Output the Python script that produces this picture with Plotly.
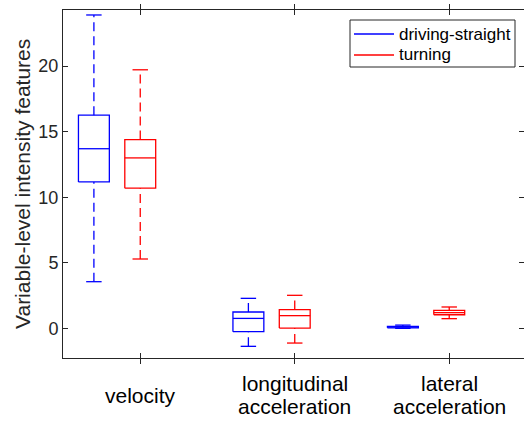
import plotly.graph_objects as go

# Feature groups along the x axis (one tick per group)
categories = ["velocity", "longitudinal\nacceleration", "lateral\nacceleration"]

# Box statistics per group: lower whisker, Q1, median, Q3, upper whisker
straight_lower = [3.56, -1.37, 0.00]
straight_q1 = [11.17, -0.25, 0.04]
straight_median = [13.70, 0.76, 0.10]
straight_q3 = [16.26, 1.25, 0.15]
straight_upper = [23.90, 2.29, 0.25]

turning_lower = [5.29, -1.12, 0.74]
turning_q1 = [10.69, 0.02, 1.04]
turning_median = [13.00, 0.97, 1.20]
turning_q3 = [14.40, 1.43, 1.37]
turning_upper = [19.72, 2.52, 1.63]

y_ticks = [0, 5, 10, 15, 20]

FONT = "Liberation Sans, Arial, sans-serif"
AXIS_COLOR = "#262626"
BOX_W = 0.2      # box width in axis units
CAP_W = 0.1      # whisker cap width
LW = 1.3

W, H = 524, 421
M_L, M_R, M_T, M_B = 63, 0, 10, 63
PLOT_W = W - M_L - M_R
PLOT_H = H - M_T - M_B


def px_to_paper(px, py):
    return (px - M_L) / PLOT_W, (H - M_B - py) / PLOT_H


series = [
    dict(name="driving-straight", color="#0000FF", offset=-0.3,
         lower=straight_lower, q1=straight_q1, med=straight_median,
         q3=straight_q3, upper=straight_upper),
    dict(name="turning", color="#FF0000", offset=0.0,
         lower=turning_lower, q1=turning_q1, med=turning_median,
         q3=turning_q3, upper=turning_upper),
]

fig = go.Figure()

for s in series:
    bx, by, mx, my, wx, wy, cx, cy = [], [], [], [], [], [], [], []
    for i in range(len(categories)):
        xc = i + 1 + s["offset"]
        x0, x1 = xc - BOX_W / 2, xc + BOX_W / 2
        # box outline
        bx += [x0, x1, x1, x0, x0, None]
        by += [s["q1"][i], s["q1"][i], s["q3"][i], s["q3"][i], s["q1"][i], None]
        # median
        mx += [x0, x1, None]
        my += [s["med"][i], s["med"][i], None]
        # whiskers, drawn bottom to top
        wx += [xc, xc, None, xc, xc, None]
        wy += [s["lower"][i], s["q1"][i], None, s["q3"][i], s["upper"][i], None]
        # caps
        cx += [xc - CAP_W / 2, xc + CAP_W / 2, None, xc - CAP_W / 2, xc + CAP_W / 2, None]
        cy += [s["lower"][i], s["lower"][i], None, s["upper"][i], s["upper"][i], None]

    line = dict(color=s["color"], width=LW)
    fig.add_trace(go.Scatter(x=wx, y=wy, mode="lines", showlegend=False, hoverinfo="skip",
                             line=dict(color=s["color"], width=LW, dash="9px,5px")))
    fig.add_trace(go.Scatter(x=cx, y=cy, mode="lines", showlegend=False, hoverinfo="skip", line=line))
    fig.add_trace(go.Scatter(x=mx, y=my, mode="lines", showlegend=False, hoverinfo="skip", line=line))
    fig.add_trace(go.Scatter(x=bx, y=by, mode="lines", name=s["name"], showlegend=False, line=line))

# mirror axis for the inward ticks on the right side
fig.add_trace(go.Scatter(x=[None], y=[None], yaxis="y2", showlegend=False, hoverinfo="skip"))

y_range = [-2.26, 24.28]

# category labels, one annotation per text line, centred under each tick
LINE_H = 23.3
for i, cat in enumerate(categories):
    lines = cat.split("\n")
    n = len(lines)
    for k, txt in enumerate(lines):
        fig.add_annotation(
            x=i + 1, xref="x", y=0, yref="paper",
            text=txt, showarrow=False, xanchor="center", yanchor="middle",
            yshift=-(37 + (k - (n - 1) / 2) * LINE_H),
            font=dict(family=FONT, size=21, color="#000000"),
        )

fig.add_annotation(
    x=0, xref="paper", y=0.5, yref="paper", xshift=-41,
    text="Variable-level intensity features", textangle=-90, showarrow=False,
    xanchor="center", yanchor="middle",
    font=dict(family=FONT, size=21, color=AXIS_COLOR),
)

# legend box in the upper right corner
lx0, ly0 = px_to_paper(350, 20)
lx1, ly1 = px_to_paper(515, 67)
fig.add_shape(type="rect", xref="paper", yref="paper", x0=lx0, x1=lx1, y0=ly1, y1=ly0,
              line=dict(color=AXIS_COLOR, width=1), fillcolor="white", layer="above")
for k, s in enumerate(series):
    row_y = 34 + k * 21
    sx0, sy = px_to_paper(354, row_y)
    sx1, _ = px_to_paper(394, row_y)
    fig.add_shape(type="line", xref="paper", yref="paper", x0=sx0, x1=sx1, y0=sy, y1=sy,
                  line=dict(color=s["color"], width=LW), layer="above")
    tx, _ = px_to_paper(397, row_y)
    fig.add_annotation(x=tx, y=sy, xref="paper", yref="paper", text=s["name"],
                       showarrow=False, xanchor="left", yanchor="middle",
                       font=dict(family=FONT, size=17, color="#000000"))

fig.update_layout(
    width=W, height=H,
    margin=dict(l=M_L, r=M_R, t=M_T, b=M_B),
    paper_bgcolor="white", plot_bgcolor="white",
    font=dict(family=FONT, color=AXIS_COLOR),
    showlegend=False,
    xaxis=dict(
        range=[0.5, 3.484], tickvals=[1, 2, 3], showticklabels=False,
        ticks="inside", ticklen=5, tickcolor=AXIS_COLOR, tickwidth=1,
        showline=True, linecolor=AXIS_COLOR, linewidth=1, mirror="allticks",
        showgrid=False, zeroline=False,
    ),
    yaxis=dict(
        range=y_range, tickvals=y_ticks, ticks="inside", ticklen=5,
        tickcolor=AXIS_COLOR, tickwidth=1, showline=True, linecolor=AXIS_COLOR,
        linewidth=1, showgrid=False, zeroline=False,
        tickfont=dict(family=FONT, size=18, color=AXIS_COLOR),
    ),
    yaxis2=dict(
        range=y_range, tickvals=y_ticks, ticks="inside", ticklen=5,
        tickcolor=AXIS_COLOR, overlaying="y", side="right", anchor="x",
        showticklabels=False, showline=False, showgrid=False, zeroline=False,
    ),
)

fig.write_html("out.html")
